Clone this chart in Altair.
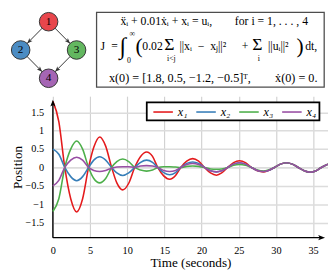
import math
import altair as alt
import pandas as pd

# ---------------- data ----------------
time_s = [0, 0.8, 1.6, 2.4, 3.2, 4.0, 4.8, 5.5, 6.3, 7.1, 7.9, 8.6, 9.4, 10.2, 11.0,
          11.8, 12.6, 13.4, 14.1, 14.9, 15.7, 16.5, 17.2, 18.0, 18.8, 19.6, 20.4,
          21.2, 22.0, 22.7, 23.5, 24.3, 25.1, 25.9, 26.7, 27.5, 28.3, 29.0, 29.8,
          30.6, 31.4, 32.2, 33.0, 33.8, 34.6, 35.4, 36.1, 37.0]
x1 = [1.80, 1.25, 0.00, -0.85, -1.21, -0.85, 0.00, 0.55, 0.83, 0.58,
      0.00, -0.42, -0.61, -0.43, 0.00, 0.30, 0.42, 0.30, 0.00, -0.23,
      -0.32, -0.22, 0.00, 0.17, 0.24, 0.17, 0.00, -0.15, -0.21, -0.15,
      0.00, 0.13, 0.18, 0.13, 0.00, -0.09, -0.12, -0.08, 0.00, 0.09,
      0.13, 0.09, 0.00, -0.09, -0.13, -0.09, 0.00, 0.09]
x2 = [0.50, 0.36, 0.00, -0.25, -0.36, -0.25, 0.00, 0.20, 0.29, 0.20,
      0.00, -0.15, -0.22, -0.15, 0.00, 0.14, 0.20, 0.14, 0.00, -0.14,
      -0.20, -0.14, 0.00, 0.11, 0.15, 0.11, 0.00, -0.09, -0.12, -0.09,
      0.00, 0.09, 0.13, 0.09, 0.00, -0.08, -0.11, -0.08, 0.00, 0.09,
      0.13, 0.09, 0.00, -0.09, -0.13, -0.09, 0.00, 0.09]
x3 = [-1.20, -0.85, 0.00, 0.50, 0.72, 0.50, 0.00, -0.30, -0.42, -0.30,
      0.00, 0.16, 0.23, 0.16, 0.00, -0.07, -0.10, -0.07, 0.00, 0.02,
      0.02, 0.01, 0.00, 0.03, 0.04, 0.03, 0.00, -0.04, -0.05, -0.04,
      0.00, 0.06, 0.08, 0.06, 0.00, -0.07, -0.10, -0.07, 0.00, 0.09,
      0.13, 0.09, 0.00, -0.09, -0.13, -0.09, 0.00, 0.09]
x4 = [-0.50, -0.35, 0.00, 0.20, 0.28, 0.20, 0.00, -0.08, -0.11, -0.08,
      -0.02, 0.01, 0.02, 0.02, 0.00, 0.04, 0.05, 0.04, 0.00, -0.08,
      -0.11, -0.08, 0.00, 0.08, 0.11, 0.08, 0.00, -0.09, -0.12, -0.09,
      0.00, 0.09, 0.13, 0.09, 0.00, -0.08, -0.11, -0.08, 0.00, 0.09,
      0.13, 0.09, 0.00, -0.09, -0.13, -0.09, 0.00, 0.09]
series_names = ["x\u2081", "x\u2082", "x\u2083", "x\u2084"]
series_colors = ["#e41a1c", "#377eb8", "#4daf4a", "#984ea3"]
x_ticks = [0, 5, 10, 15, 20, 25, 30, 35]
y_ticks = [-1.5, -1, -0.5, 0, 0.5, 1, 1.5]

node_ids = ["1", "2", "3", "4"]
node_col = [0, -1, 1, 0]
node_row = [0, 1, 1, 2]
node_colors = ["#e8464c", "#4b8cc3", "#63b760", "#a565b4"]
edges_from = ["1", "1", "2", "3"]
edges_to = ["2", "3", "4", "4"]

eq1_left = "\u1e8d\u1d62 + 0.01\u1e8b\u1d62 + x\u1d62 = u\u1d62,"
eq1_right = "for i = 1, . . . , 4"
eq3_left = "x(0) = [1.8, 0.5, \u22121.2, \u22120.5]\u1d40,"
eq3_right = "\u1e8b(0) = 0."

# ---------------- layout ----------------
SX, SY = 328 / 336, 270 / 278
PL, PT, W, H = 46, 87, 282, 145
SERIF = "Liberation Serif"


def rx(x):
    return x * SX - PL


def ry(y):
    return y * SY - PT


X_DOM = [0, 37]
Y_DOM = [-1.91, 1.94]
xs = alt.Scale(domain=X_DOM, nice=False, zero=False)
ys = alt.Scale(domain=Y_DOM, nice=False, zero=False)

rows = []
for name, vals in zip(series_names, [x1, x2, x3, x4]):
    for t, v in zip(time_s, vals):
        rows.append({"t": t, "v": v, "series": name})
df = pd.DataFrame(rows)

lines = alt.Chart(df).mark_line(strokeWidth=1.6, interpolate="monotone").encode(
    x=alt.X("t:Q", scale=xs, axis=alt.Axis(
        values=x_ticks, format="~g", grid=True, gridColor="#d2d2d2", gridWidth=1.2,
        domain=False, ticks=False, labelPadding=8, labelFlush=False, labelOverlap=False,
        labelFont=SERIF, labelFontSize=10.5, labelColor="black",
        title="Time (seconds)", titleFont=SERIF, titleFontSize=13.5,
        titleFontWeight="normal", titleColor="black", titleY=26, titleBaseline="middle")),
    y=alt.Y("v:Q", scale=ys, axis=alt.Axis(
        values=y_ticks, format="~g", grid=True, gridColor="#dcdcdc", gridWidth=1.6,
        domain=False, ticks=False, labelPadding=9.5, labelFlush=False, labelOverlap=False,
        labelFont=SERIF, labelFontSize=10.5, labelColor="black",
        title="Position", titleFont=SERIF, titleFontSize=13.5,
        titleFontWeight="normal", titleColor="black", titleX=-36, titleBaseline="middle")),
    color=alt.Color("series:N", scale=alt.Scale(domain=series_names, range=series_colors),
                    legend=alt.Legend(orient="none", legendX=98, legendY=1,
                                      direction="horizontal", title=None,
                                      symbolType="stroke", symbolSize=400,
                                      symbolStrokeWidth=1.6, labelFont=SERIF,
                                      labelFontStyle="italic", labelFontSize=12.5,
                                      labelColor="black", labelOffset=4,
                                      columnPadding=5, padding=4)),
)

# axis lines with arrow heads
axis_df = pd.DataFrame({"t": [0.0], "v": [Y_DOM[0]], "v2": [1.76], "t2": [36.2]})
y_axis_line = alt.Chart(axis_df).mark_rule(color="black", strokeWidth=1.4).encode(
    x=alt.X("t:Q", scale=xs, axis=None), y=alt.Y("v:Q", scale=ys, axis=None), y2="v2:Q")
x_axis_line = alt.Chart(axis_df).mark_rule(color="black", strokeWidth=1.4).encode(
    x=alt.X("t:Q", scale=xs, axis=None), x2="t2:Q", y=alt.Y("v:Q", scale=ys, axis=None))
up_df = pd.DataFrame({"t": [0.0], "v": [1.75]})
right_df = pd.DataFrame({"t": [36.14], "v": [Y_DOM[0]]})
y_arrow = alt.Chart(up_df).mark_point(
    shape="M0,-1L0.75,1L0,0.55L-0.75,1Z", filled=True, size=49, color="black", opacity=1).encode(
    x=alt.X("t:Q", scale=xs, axis=None), y=alt.Y("v:Q", scale=ys, axis=None))
x_arrow = alt.Chart(right_df).mark_point(
    shape="M1,0L-1,0.75L-0.55,0L-1,-0.75Z", filled=True, size=49, color="black", opacity=1).encode(
    x=alt.X("t:Q", scale=xs, axis=None), y=alt.Y("v:Q", scale=ys, axis=None))

# legend frame
legend_box = alt.Chart(pd.DataFrame({"a": [0]})).mark_rect(
    fill="white", stroke="black", strokeWidth=1.8).encode(
    x=alt.value(rx(145.7)), x2=alt.value(rx(327)), y=alt.value(ry(96)), y2=alt.value(ry(115)))

# ---------------- graph diagram ----------------
gxs = alt.Scale(domain=[-1, 1], range=[rx(13.3), rx(72.0)], nice=False, zero=False)
gys = alt.Scale(domain=[0, 2], range=[ry(11.0), ry(70.7)], nice=False, zero=False)
kx = (rx(72.0) - rx(13.3)) / 2
ky = (ry(70.7) - ry(11.0)) / 2
R_NODE, HEAD = 9.5, 5.5
pos = {i: (c, r) for i, c, r in zip(node_ids, node_col, node_row)}
edge_rows = []
for a, b in zip(edges_from, edges_to):
    (ax_, ay_), (bx_, by_) = pos[a], pos[b]
    dx, dy = (bx_ - ax_) * kx, (by_ - ay_) * ky
    L = math.hypot(dx, dy)
    ux, uy = dx / L, dy / L
    d = R_NODE + HEAD / 2
    edge_rows.append({"ax": ax_, "ay": ay_, "bx": bx_, "by": by_,
                      "hx": bx_ - d * ux / kx, "hy": by_ - d * uy / ky,
                      "ang": math.degrees(math.atan2(ux, -uy)) % 360})
edges_df = pd.DataFrame(edge_rows)
nodes_df = pd.DataFrame({"id": node_ids, "gx": node_col, "gy": node_row})

edge_lines = alt.Chart(edges_df).mark_rule(color="#333333", strokeWidth=1).encode(
    x=alt.X("ax:Q", scale=gxs, axis=None), x2="bx:Q",
    y=alt.Y("ay:Q", scale=gys, axis=None), y2="by:Q")
edge_heads = alt.Chart(edges_df).mark_point(
    shape="M0,-1L0.8,1L0,0.5L-0.8,1Z", filled=True, size=HEAD * HEAD, color="#333333",
    opacity=1).encode(
    x=alt.X("hx:Q", scale=gxs, axis=None), y=alt.Y("hy:Q", scale=gys, axis=None),
    angle=alt.Angle("ang:Q", scale=None))
node_marks = alt.Chart(nodes_df).mark_circle(
    size=(2 * R_NODE) ** 2, stroke="#333333", strokeWidth=1, opacity=1).encode(
    x=alt.X("gx:Q", scale=gxs, axis=None), y=alt.Y("gy:Q", scale=gys, axis=None),
    fill=alt.Fill("id:N", scale=alt.Scale(domain=node_ids, range=node_colors), legend=None))
node_text = alt.Chart(nodes_df).mark_text(
    font=SERIF, fontSize=11.5, color="black", baseline="middle", align="center").encode(
    x=alt.X("gx:Q", scale=gxs, axis=None), y=alt.Y("gy:Q", scale=gys, axis=None),
    text="id:N")

# ---------------- equation box ----------------
eq_box = alt.Chart(pd.DataFrame({"a": [0]})).mark_rect(
    fillOpacity=0, stroke="#4d4d4d", strokeWidth=1.3).encode(
    x=alt.value(rx(93)), x2=alt.value(rx(332)), y=alt.value(ry(1.2)), y2=alt.value(ry(80)))


def txt(s, x, y, size=12, align="left"):
    return alt.Chart(pd.DataFrame({"s": [s]})).mark_text(
        align=align, baseline="middle", font=SERIF, fontSize=size, color="black").encode(
        text="s:N", x=alt.value(rx(x)), y=alt.value(ry(y)))


eq_texts = [
    txt(eq1_left, 118, 10.5, 12, "left"),
    txt(eq1_right, 315, 10.5, 12, "right"),
    txt("J", 97, 37),
    txt("=", 112, 37, 12, "center"),
    txt("\u222b", 117, 38, 24),
    txt("\u221e", 127.5, 24, 8),
    txt("0", 125, 52, 8),
    txt("(", 134, 37, 22),
    txt("0.02", 141, 37),
    txt("\u03a3", 164, 36, 18),
    txt("i<j", 171.5, 50.5, 8, "center"),
    txt("||x\u1d62\u2002\u2212\u2002x\u2c7c||\u00b2", 180, 37),
    txt("+", 249, 37, 12, "center"),
    txt("\u03a3", 256.5, 36, 18),
    txt("i", 263.5, 50.5, 8, "center"),
    txt("||u\u1d62||\u00b2", 273, 37),
    txt(")", 303, 37, 22),
    txt("dt,", 312, 37),
    txt(eq3_left, 106, 71, 12.5, "left"),
    txt(eq3_right, 325, 71, 12.5, "right"),
]

layers = [eq_box, *eq_texts, edge_lines, node_marks, edge_heads, node_text,
          y_axis_line, x_axis_line, lines, y_arrow, x_arrow, legend_box]

chart = alt.layer(*layers).resolve_scale(
    x="independent", y="independent"
).properties(
    width=W, height=H, autosize="none",
    padding={"left": PL, "top": PT, "right": 328 - PL - W, "bottom": 270 - PT - H},
    background="white",
).configure_view(stroke=None)

chart.save("out.html", embed_options={"renderer": "svg", "actions": False})
